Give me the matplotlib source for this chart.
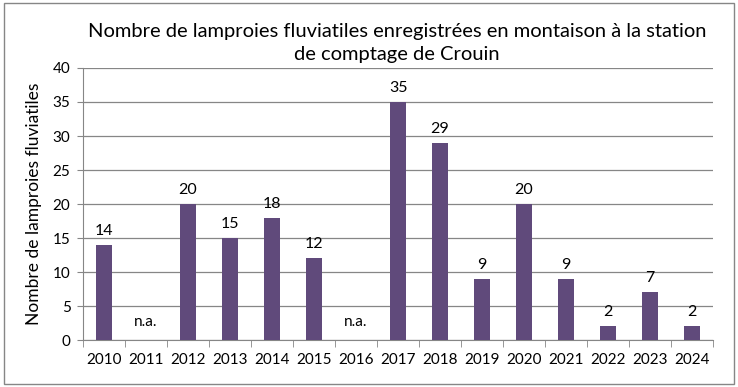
import matplotlib.pyplot as plt
import numpy as np

years = ["2010", "2011", "2012", "2013", "2014", "2015", "2016", "2017",
         "2018", "2019", "2020", "2021", "2022", "2023", "2024"]
counts = [14, None, 20, 15, 18, 12, None, 35, 29, 9, 20, 9, 2, 7, 2]

bar_color = "#604A7B"
grid_color = "#868686"
plt.rcParams['font.family'] = ['Lato', 'DejaVu Sans']

fig = plt.figure(figsize=(7.38, 3.87), dpi=100)
ax = fig.add_axes([0.1125, 0.1214, 0.8537, 0.7029])

x = np.arange(len(years))
heights = [c if c is not None else 0 for c in counts]
ax.bar(x, heights, width=0.4, color=bar_color, zorder=3)

for xi, c in zip(x, counts):
    if c is None:
        ax.annotate("n.a.", (xi, 0), xytext=(0, 8), textcoords="offset points",
                    ha="center", va="bottom", fontsize=11)
    else:
        ax.annotate(str(c), (xi, c), xytext=(0, 5), textcoords="offset points",
                    ha="center", va="bottom", fontsize=11.5)

ax.set_xlim(-0.5, len(years) - 0.5)
ax.set_ylim(0, 40)
ax.set_yticks(range(0, 45, 5))
ax.set_xticks(x)
ax.set_xticklabels(years, fontsize=11)
ax.tick_params(axis="x", length=0, pad=9)
ax.set_xticks(np.arange(-0.5, len(years)), minor=True)
ax.tick_params(axis="x", which="minor", length=5, color=grid_color, direction="out")
ax.tick_params(axis="y", labelsize=11, length=4, color=grid_color, pad=5)

ax.yaxis.grid(True, color=grid_color, linewidth=0.9, zorder=0)
for side in ["top", "right"]:
    ax.spines[side].set_visible(False)
ax.spines["left"].set_color(grid_color)
ax.spines["bottom"].set_color(grid_color)

ax.set_ylabel("Nombre de lamproies fluviatiles", fontsize=12.5, labelpad=8)

fig.text(0.538, 0.94, "Nombre de lamproies fluviatiles enregistrées en montaison à la station\nde comptage de Crouin",
         ha="center", va="top", fontsize=14.5, linespacing=1.4)

border = plt.Rectangle((0.005, 0.008), 0.99, 0.984, transform=fig.transFigure,
                       fill=False, edgecolor=grid_color, linewidth=1)
fig.patches.append(border)

fig.savefig("out.png", dpi=100)
